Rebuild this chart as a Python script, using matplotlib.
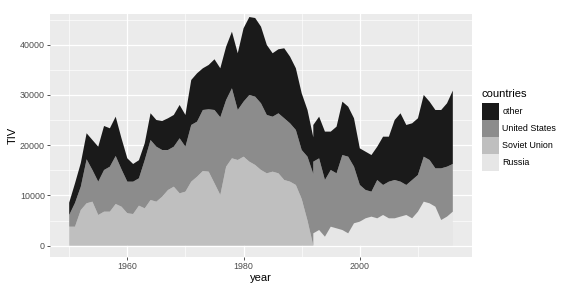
import numpy as np
import matplotlib
matplotlib.use("Agg")
import matplotlib.pyplot as plt
from matplotlib.patches import Patch

plt.rcParams['font.family'] = ['Liberation Sans', 'DejaVu Sans']

# ---- data ----
years = list(range(1950, 2017))
countries = ["other", "United States", "Soviet Union", "Russia"]

soviet_years = list(range(1950, 1993))
soviet = [3780, 3780, 7100, 8440, 8760, 6110, 6770, 6770, 8300, 7760,
          6450, 6300, 7960, 7430, 9090, 8760, 9750, 11080, 11740, 10420,
          10750, 12740, 13730, 14860, 14730, 12420, 10090, 15720, 17390, 17050,
          17710, 16720, 16060, 15060, 14400, 14730, 14400, 13070, 12740, 12080,
          9300, 5000, 0]

russia_years = list(range(1992, 2017))
russia = [2460, 3120, 1790, 3780, 3450, 3120, 2460, 4460, 4780, 5450,
          5780, 5450, 6110, 5450, 5450, 5780, 6110, 5450, 6770, 8760,
          8430, 7760, 5110, 5780, 6770]

united_states = [2320, 4720, 4650, 8750, 6300, 6630, 8290, 8950, 9550, 7440,
                 6290, 6440, 5450, 9620, 11940, 10940, 9290, 7960, 7960, 10950,
                 8950, 11280, 10950, 12140, 12410, 14580, 15460, 13270, 13930, 9950,
                 10950, 13270, 13590, 13270, 11610, 10940, 11940, 12280, 11610, 10940,
                 9740, 12710, 14260, 14260, 11280, 11280, 10950, 14920, 15250, 11260,
                 7300, 5630, 4970, 7620, 5970, 7290, 7620, 6960, 5970, 7620,
                 7300, 8950, 8620, 7630, 10280, 9940, 9490]

other = [2460, 3900, 4700, 5180, 5970, 6960, 8760, 7640, 7820, 6170,
         4650, 3520, 3600, 3330, 5320, 5310, 5770, 6310, 6310, 6630,
         6310, 8950, 9620, 8300, 8820, 10090, 9750, 10610, 11260, 11290,
         14600, 15510, 15650, 15250, 13930, 12620, 12740, 13930, 13260, 12280,
         11290, 9290, 7300, 8290, 9630, 7640, 9290, 10620, 9950, 9630,
         7290, 7620, 7290, 6630, 9610, 8950, 11940, 13600, 11940, 11280,
         11280, 12280, 11610, 11610, 11610, 12610, 14600]

colors = {"other": "#1a1a1a", "United States": "#8c8c8c",
          "Soviet Union": "#bfbfbf", "Russia": "#e6e6e6"}

# ---- align series on a common x grid (zero padding outside each series' range) ----
eps = 1e-3
grid = sorted(set(years) | {russia_years[0] - eps})
grid = np.array(grid, dtype=float)

def aligned(xs, vs):
    xs = np.asarray(xs, float); vs = np.asarray(vs, float)
    out = np.interp(grid, xs, vs)
    out[(grid < xs[0]) | (grid > xs[-1])] = 0.0
    return out

layers = [("Russia", aligned(russia_years, russia)),
          ("Soviet Union", aligned(soviet_years, soviet)),
          ("United States", aligned(years, united_states)),
          ("other", aligned(years, other))]

fig = plt.figure(figsize=(5.77, 2.90), dpi=100)
ax = fig.add_axes([50/577, 1-257/290, (472-50)/577, (257-14)/290])
ax.set_facecolor("#ebebeb")

base = np.zeros_like(grid)
for name, vals in layers:
    top = base + vals
    ax.fill_between(grid, base, top, facecolor=colors[name], edgecolor="none",
                    linewidth=0, zorder=3)
    base = top

ax.set_xlim(1946.7, 2019.3)
ax.set_ylim(-2250, 46100)
ax.set_xticks([1960, 1980, 2000])
ax.set_xticks([1950, 1970, 1990, 2010], minor=True)
ax.set_yticks([0, 10000, 20000, 30000, 40000])
ax.set_yticks([5000, 15000, 25000, 35000, 45000], minor=True)
ax.grid(which="major", color="white", linewidth=0.9, zorder=0)
ax.grid(which="minor", color="white", linewidth=0.45, zorder=0)
ax.set_axisbelow(True)
for s in ax.spines.values():
    s.set_visible(False)
ax.tick_params(which="major", length=2.2, width=0.6, color="#333333",
               labelsize=6.4, labelcolor="#4d4d4d", pad=1.5)
ax.tick_params(which="minor", length=0)
ax.set_xlabel("year", fontsize=8, labelpad=1.5)
ax.set_ylabel("TIV", fontsize=8, labelpad=1.5)

handles = [Patch(facecolor=colors[c], edgecolor="none") for c in countries]
leg = fig.legend(handles, countries, title="countries", loc="upper left",
                 bbox_to_anchor=(482/577, 1-89/290), frameon=False,
                 fontsize=6.4, title_fontsize=8, handlelength=1.9,
                 handleheight=2.57, labelspacing=0.0, handletextpad=0.4,
                 borderaxespad=0, borderpad=0, alignment="left")
leg._legend_box.sep = 3

fig.savefig("out.png", dpi=100)
